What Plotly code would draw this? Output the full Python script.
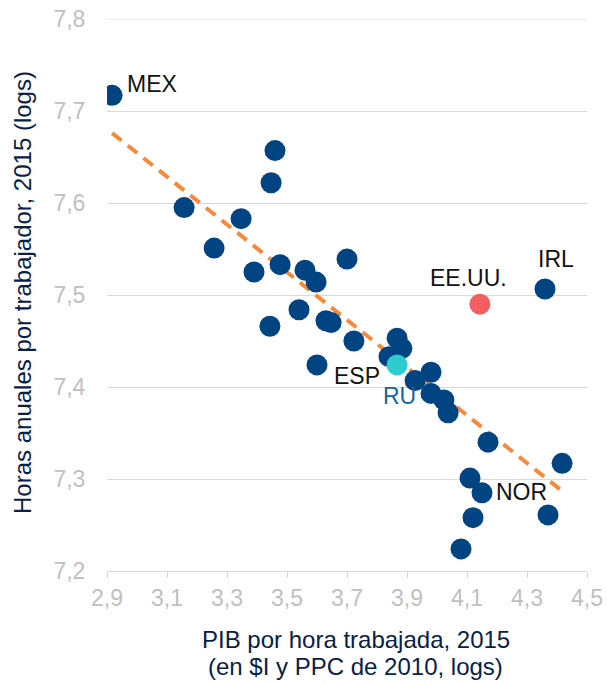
import plotly.graph_objects as go

# Data (x: log GDP per hour worked, y: log annual hours per worker)
x_oecd = [2.917, 3.157, 3.257, 3.347, 3.39, 3.46, 3.447, 3.477, 3.443, 3.54,
          3.56, 3.597, 3.70, 3.63, 3.647, 3.723, 3.60, 3.867, 3.883, 3.84,
          3.927, 3.98, 3.98, 4.023, 4.037, 4.17, 4.417, 4.11, 4.15, 4.12,
          4.37, 4.08, 4.36]
y_oecd = [7.717, 7.595, 7.551, 7.583, 7.525, 7.657, 7.622, 7.533, 7.466, 7.484,
          7.527, 7.514, 7.539, 7.472, 7.470, 7.450, 7.424, 7.453, 7.442, 7.433,
          7.407, 7.416, 7.393, 7.386, 7.372, 7.340, 7.317, 7.301, 7.285, 7.258,
          7.261, 7.224, 7.5065]
x_usa, y_usa = [4.143], [7.490]
x_ru, y_ru = [3.867], [7.424]
trend_x = [2.917, 4.417]
trend_y = [7.676, 7.287]

labels = [("MEX", 2.917, 7.717), ("IRL", 4.36, 7.5065), ("EE.UU.", 4.143, 7.490),
          ("ESP", 3.84, 7.433), ("RU", 3.867, 7.424), ("NOR", 4.15, 7.285)]
x_ticks = [2.9, 3.1, 3.3, 3.5, 3.7, 3.9, 4.1, 4.3, 4.5]
y_ticks = [7.2, 7.3, 7.4, 7.5, 7.6, 7.7, 7.8]
x_title_lines = ["PIB por hora trabajada, 2015", "(en $I y PPC de 2010, logs)"]
y_title = "Horas anuales por trabajador, 2015 (logs)"

NAVY = "#004481"
FONT = "Liberation Sans, Arial, sans-serif"
FS = 23
GRID = "#D9D9D9"

fig = go.Figure()
fig.add_trace(go.Scatter(x=trend_x, y=trend_y, mode="lines",
                         line=dict(color="#F7893B", width=4, dash="12px,8px"),
                         hoverinfo="skip"))
fig.add_trace(go.Scatter(x=x_oecd, y=y_oecd, mode="markers",
                         marker=dict(color=NAVY, size=21, line=dict(width=0))))
fig.add_trace(go.Scatter(x=x_usa, y=y_usa, mode="markers",
                         marker=dict(color="#F35E61", size=21, line=dict(width=0))))
fig.add_trace(go.Scatter(x=x_ru, y=y_ru, mode="markers",
                         marker=dict(color="#2DCCCD", size=21, line=dict(width=0))))

# top gridline (plotly drops grid lines at the range edge)
fig.add_shape(type="line", xref="paper", x0=0, x1=1, yref="y", y0=y_ticks[-1], y1=y_ticks[-1],
              line=dict(color=GRID, width=1), layer="below")

style = {
    "MEX": dict(xanchor="left", yanchor="middle", xshift=13, yshift=11, color="#111111"),
    "IRL": dict(xanchor="center", yanchor="middle", xshift=11, yshift=30, color="#111111"),
    "EE.UU.": dict(xanchor="center", yanchor="middle", xshift=-11, yshift=26, color="#111111"),
    "ESP": dict(xanchor="right", yanchor="middle", xshift=-7, yshift=-19, color="#111111"),
    "RU": dict(xanchor="center", yanchor="middle", xshift=2, yshift=-31, color="#1464A5"),
    "NOR": dict(xanchor="left", yanchor="middle", xshift=12, yshift=1, color="#111111"),
}
for name, lx, ly in labels:
    s = style[name]
    fig.add_annotation(x=lx, y=ly, xref="x", yref="y", text=name, showarrow=False,
                       xanchor=s["xanchor"], yanchor=s["yanchor"],
                       xshift=s["xshift"], yshift=s["yshift"],
                       font=dict(family=FONT, size=FS, color=s["color"]))

# plot area: x 107..587, y 19..571 (480 x 552)
PW, PH = 480, 552
for line, dy in zip(x_title_lines, [68, 95]):
    fig.add_annotation(x=(355.5 - 107) / PW, y=-dy / PH, xref="paper", yref="paper",
                       text=line, showarrow=False, xanchor="center", yanchor="middle",
                       font=dict(family=FONT, size=24, color="#072146"))
fig.add_annotation(x=(22 - 107) / PW, y=(571 - 293) / PH, xref="paper", yref="paper",
                   text=y_title, textangle=-90,
                   showarrow=False, xanchor="center", yanchor="middle",
                   font=dict(family=FONT, size=24, color="#072146"))

fig.update_layout(
    width=607, height=683,
    margin=dict(l=107, r=20, t=19, b=112, autoexpand=False),
    plot_bgcolor="white", paper_bgcolor="white",
    showlegend=False, separators=",.",
    font=dict(family=FONT),
    xaxis=dict(range=[2.9, 4.5], tickvals=x_ticks, tickformat=".1f", automargin=False,
               showgrid=False, zeroline=False, ticklabeloverflow="allow",
               showline=True, linecolor=GRID, linewidth=1,
               ticks="outside", ticklen=6, tickcolor=GRID,
               tickfont=dict(family=FONT, size=FS, color="#BFBFBF")),
    yaxis=dict(range=[7.2, 7.8], tickvals=y_ticks, tickformat=".1f", automargin=False,
               showgrid=True, gridcolor=GRID, gridwidth=1, zeroline=False,
               ticklabeloverflow="allow",
               showline=False, ticks="outside", ticklen=16, tickcolor="rgba(0,0,0,0)",
               tickfont=dict(family=FONT, size=FS, color="#BFBFBF")),
)
fig.write_html("out.html", config={"displayModeBar": False},
               post_script="document.body.style.margin='0';document.body.style.overflow='hidden';")
